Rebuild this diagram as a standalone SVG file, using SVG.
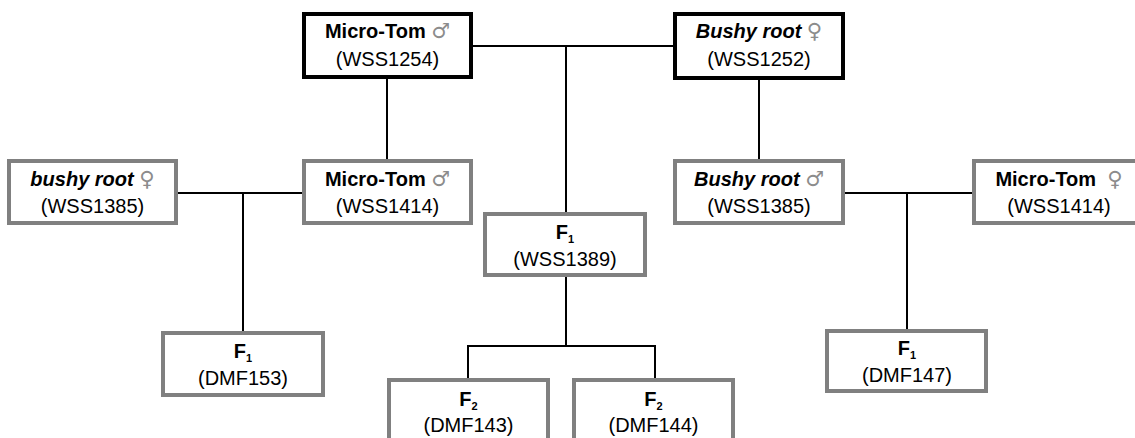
<svg xmlns="http://www.w3.org/2000/svg" width="1135" height="438" viewBox="0 0 1135 438">
<style>
.parent{fill:#fff;stroke:#000;stroke-width:4}
.child{fill:#fff;stroke:#808080;stroke-width:4}
.t{font-family:"Liberation Sans",Arial,sans-serif;font-size:20px;fill:#000;text-anchor:middle}
.b{font-weight:bold}
.bi{font-weight:bold;font-style:italic}
.sym{font-family:"DejaVu Sans",sans-serif;font-weight:normal;font-style:normal;fill:#8c8c8c;font-size:21px}
.sub{font-size:11px;font-weight:bold}
.ln{fill:none;stroke:#000;stroke-width:2}
</style>
<rect width="1135" height="438" fill="#fff"/>
<g id="connectors">
<path class="ln" d="M473 46H673"/>
<path class="ln" d="M566 46V212"/>
<path class="ln" d="M387 79V159"/>
<path class="ln" d="M759 80V159"/>
<path class="ln" d="M178 193H302"/>
<path class="ln" d="M243 193V331"/>
<path class="ln" d="M845 193H972"/>
<path class="ln" d="M907 193V329"/>
<path class="ln" d="M566 277V346"/>
<path class="ln" d="M468 378V346H655V378"/>
</g>
<g id="micro-tom-wss1254">
<rect class="parent" x="304" y="14" width="167" height="63"/>
<text class="t" x="387.5" y="38"><tspan class="b">Micro-Tom </tspan><tspan class="sym">♂</tspan></text>
<text class="t" x="387.5" y="66">(WSS1254)</text>
</g>
<g id="bushy-root-wss1252">
<rect class="parent" x="675" y="14" width="168" height="64"/>
<text class="t" x="759" y="38"><tspan class="bi">Bushy root </tspan><tspan class="sym">♀</tspan></text>
<text class="t" x="759" y="66">(WSS1252)</text>
</g>
<g id="bushy-root-wss1385-f">
<rect class="child" x="9" y="161" width="167" height="62"/>
<text class="t" x="92.5" y="186"><tspan class="bi">bushy root </tspan><tspan class="sym">♀</tspan></text>
<text class="t" x="92.5" y="213">(WSS1385)</text>
</g>
<g id="micro-tom-wss1414-m">
<rect class="child" x="304" y="161" width="167" height="62"/>
<text class="t" x="387.5" y="186"><tspan class="b">Micro-Tom </tspan><tspan class="sym">♂</tspan></text>
<text class="t" x="387.5" y="213">(WSS1414)</text>
</g>
<g id="bushy-root-wss1385-m">
<rect class="child" x="675" y="161" width="168" height="62"/>
<text class="t" x="759" y="186"><tspan class="bi">Bushy root </tspan><tspan class="sym">♂</tspan></text>
<text class="t" x="759" y="213">(WSS1385)</text>
</g>
<g id="micro-tom-wss1414-f">
<rect class="child" x="974" y="161" width="167" height="62"/>
<text class="t" x="1059" y="186"><tspan class="b">Micro-Tom&#160; </tspan><tspan class="sym">♀</tspan></text>
<text class="t" x="1059" y="213">(WSS1414)</text>
</g>
<g id="f1-wss1389">
<rect class="child" x="485" y="214" width="160" height="61"/>
<text class="t" x="565" y="239"><tspan class="b">F</tspan><tspan class="sub" dy="4">1</tspan></text>
<text class="t" x="565" y="266">(WSS1389)</text>
</g>
<g id="f1-dmf153">
<rect class="child" x="163" y="333" width="160" height="62"/>
<text class="t" x="243" y="357.5"><tspan class="b">F</tspan><tspan class="sub" dy="4">1</tspan></text>
<text class="t" x="243" y="384.5">(DMF153)</text>
</g>
<g id="f1-dmf147">
<rect class="child" x="827" y="331" width="159" height="60"/>
<text class="t" x="907" y="354.5"><tspan class="b">F</tspan><tspan class="sub" dy="4">1</tspan></text>
<text class="t" x="907" y="381.5">(DMF147)</text>
</g>
<g id="f2-dmf143">
<rect class="child" x="389" y="380" width="159" height="80"/>
<text class="t" x="468.5" y="406"><tspan class="b">F</tspan><tspan class="sub" dy="4">2</tspan></text>
<text class="t" x="468.5" y="432">(DMF143)</text>
</g>
<g id="f2-dmf144">
<rect class="child" x="574" y="380" width="159" height="80"/>
<text class="t" x="653.5" y="406"><tspan class="b">F</tspan><tspan class="sub" dy="4">2</tspan></text>
<text class="t" x="653.5" y="432">(DMF144)</text>
</g>
</svg>
